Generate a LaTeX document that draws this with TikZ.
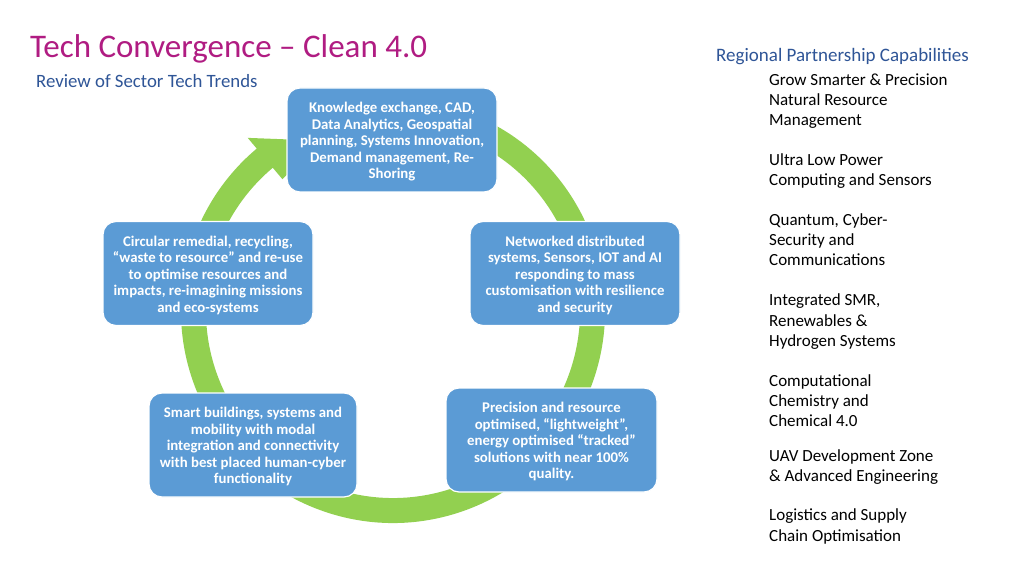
\documentclass[tikz,border=0pt]{standalone}
\usepackage{fontspec}
\setmainfont{Carlito}
\usetikzlibrary{calc}
\definecolor{boxblue}{HTML}{5B9BD5}
\definecolor{ringgreen}{HTML}{92D050}
\definecolor{titlemag}{HTML}{B01C82}
\definecolor{subblue}{HTML}{2F5597}
\newcommand{\topgap}{\rule{0pt}{14pt}}
\begin{document}
\begin{tikzpicture}[x=1pt,y=1pt,
  cyclebox/.style={rounded corners=13pt, fill=boxblue, draw=white, line width=1.2pt, text=white, align=center, font=\bfseries\fontsize{14.8}{16.5}\selectfont, inner sep=0pt, minimum height=104pt},
  listitem/.style={anchor=north west, align=left, inner sep=0pt, font=\fontsize{17}{20.4}\selectfont, text=black},
  ringline/.style={draw=ringgreen, line width=25pt},
  ringhead/.style={fill=ringgreen},
]
\useasboundingbox[fill=white] (0,0) rectangle (1024,576);
\coordinate (C) at (393,265);
\draw[ringline] ($(C)+(70:199.5)$) arc[start angle=70,end angle=-232,radius=199.5];
\fill[ringhead] ($(C)+(130:226)$) -- ($(C)+(113:185)$) -- ($(C)+(130:172)$) -- cycle;

\node[cyclebox, minimum width=210pt] (top) at (392,436) {\topgap Knowledge exchange, CAD,\\Data Analytics, Geospatial\\planning, Systems Innovation,\\Demand management, Re-\\Shoring};
\node[cyclebox, minimum width=210pt] (circ) at (208,302.5) {\topgap Circular remedial, recycling,\\“waste to resource” and re-use\\to optimise resources and\\impacts, re-imagining missions\\and eco-systems};
\node[cyclebox, minimum width=210pt] (net) at (575,302.5) {\topgap Networked distributed\\systems, Sensors, IOT and AI\\responding to mass\\customisation with resilience\\and security};
\node[cyclebox, minimum width=208pt] (smart) at (253,131) {\topgap Smart buildings, systems and\\mobility with modal\\integration and connectivity\\with best placed human-cyber\\functionality};
\node[cyclebox, minimum width=211pt] (prec) at (551.5,136) {\topgap Precision and resource\\optimised, “lightweight”,\\energy optimised “tracked”\\solutions with near 100\%\\quality.};

\node[anchor=base west, inner sep=0pt, font=\fontsize{33}{40}\selectfont, text=titlemag] (title) at (30,518) {Tech Convergence – Clean 4.0};
\node[anchor=base west, inner sep=0pt, font=\fontsize{18.8}{22}\selectfont, text=subblue] (subtitle) at (36,488) {Review of Sector Tech Trends};
\node[anchor=base west, inner sep=0pt, font=\fontsize{19}{22}\selectfont, text=subblue] (heading) at (716,514) {Regional Partnership Capabilities};

\node[listitem] (l1) at (769,505.3) {\strut Grow Smarter \& Precision\\Natural Resource\\Management};
\node[listitem] (l2) at (769,425.3) {\strut Ultra Low Power\\Computing and Sensors};
\node[listitem] (l3) at (769,365.3) {\strut Quantum, Cyber-\\Security and\\Communications};
\node[listitem] (l4) at (769,284.8) {\strut Integrated SMR,\\Renewables \&\\Hydrogen Systems};
\node[listitem] (l5) at (769,204.3) {\strut Computational\\Chemistry and\\Chemical 4.0};
\node[listitem] (l6) at (769,129.3) {\strut UAV Development Zone\\\& Advanced Engineering};
\node[listitem] (l7) at (769,69.8) {\strut Logistics and Supply\\Chain Optimisation};
\end{tikzpicture}
\end{document}
